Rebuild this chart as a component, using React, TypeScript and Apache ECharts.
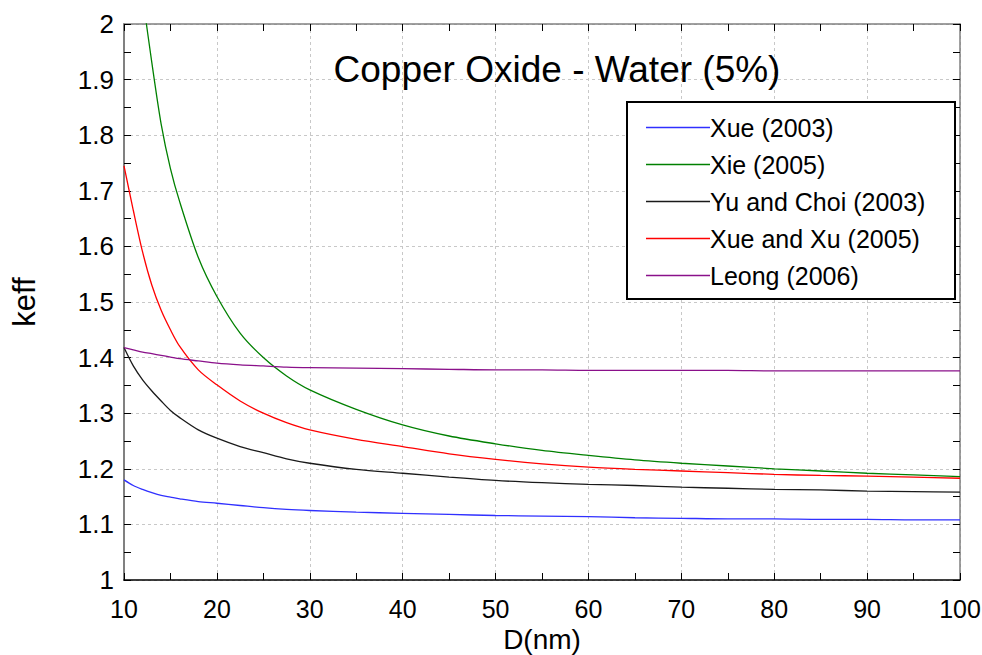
import React, { useEffect, useRef } from "react";
import * as echarts from "echarts";

const TITLE = "Copper Oxide - Water (5%)";
const X_NAME = "D(nm)";
const Y_NAME = "keff";

const seriesNames = ["Xue (2003)", "Xie (2005)", "Yu and Choi (2003)", "Xue and Xu (2005)", "Leong (2006)"];
const seriesColors = ["#3030ff", "#008000", "#1a1a1a", "#ff0000", "#8a108a"];

const D = [10, 11, 12, 13, 14, 15, 16, 18, 20, 22.5, 25, 27.5, 30, 35, 40, 45, 50, 55, 60, 65, 70, 75, 80, 85, 90, 95, 100];

const xue2003 = [1.180, 1.170, 1.163, 1.157, 1.152, 1.149, 1.146, 1.141, 1.138, 1.134, 1.130, 1.127, 1.125, 1.122, 1.120, 1.118, 1.116, 1.115, 1.114, 1.112, 1.111, 1.110, 1.110, 1.109, 1.109, 1.108, 1.108];
const yuChoi2003 = [1.418, 1.385, 1.360, 1.340, 1.322, 1.305, 1.292, 1.270, 1.255, 1.240, 1.229, 1.218, 1.210, 1.199, 1.192, 1.185, 1.179, 1.175, 1.172, 1.170, 1.167, 1.165, 1.163, 1.162, 1.160, 1.159, 1.158];
const xueXu2005 = [1.745, 1.665, 1.590, 1.530, 1.485, 1.450, 1.420, 1.378, 1.351, 1.322, 1.300, 1.283, 1.270, 1.253, 1.240, 1.227, 1.217, 1.209, 1.203, 1.199, 1.196, 1.193, 1.190, 1.188, 1.187, 1.185, 1.183];
const leong2006 = [1.418, 1.414, 1.410, 1.407, 1.404, 1.401, 1.398, 1.394, 1.390, 1.387, 1.385, 1.383, 1.382, 1.381, 1.380, 1.379, 1.378, 1.378, 1.377, 1.377, 1.377, 1.377, 1.376, 1.376, 1.376, 1.376, 1.376];

const D_XIE = [12, 13, 14, 15, 16, 18, 20, 22.5, 25, 27.5, 30, 35, 40, 45, 50, 55, 60, 65, 70, 75, 80, 85, 90, 95, 100];
const xie2005 = [2.05, 1.93, 1.82, 1.74, 1.68, 1.58, 1.51, 1.444, 1.40, 1.367, 1.342, 1.307, 1.279, 1.259, 1.245, 1.233, 1.224, 1.216, 1.210, 1.205, 1.200, 1.196, 1.192, 1.189, 1.186];

const xTickLabels = ["10", "20", "30", "40", "50", "60", "70", "80", "90", "100"];
const yTickLabels = ["1", "1.1", "1.2", "1.3", "1.4", "1.5", "1.6", "1.7", "1.8", "1.9", "2"];

const FONT = "Liberation Sans, Arial, Helvetica, sans-serif";

function pairs(xs: number[], ys: number[]) {
  return xs.map((x, i) => [x, ys[i]]);
}

export default function App() {
  const ref = useRef<HTMLDivElement>(null);
  useEffect(() => {
    if (!ref.current) return;
    const chart = echarts.init(ref.current, undefined, { renderer: "svg" });
    const dataSets = [
      pairs(D, xue2003),
      pairs(D_XIE, xie2005),
      pairs(D, yuChoi2003),
      pairs(D, xueXu2005),
      pairs(D, leong2006),
    ];
    const gridLine = { show: true, lineStyle: { color: "#c8c8c8", type: [3, 3] as any, width: 1 } };
    chart.setOption({
      animation: false,
      backgroundColor: "#ffffff",
      textStyle: { fontFamily: FONT },
      title: {
        text: TITLE,
        left: 552,
        textAlign: "center",
        top: 46,
        textStyle: { fontFamily: FONT, fontSize: 37, fontWeight: "normal", color: "#000" },
      },
      grid: { left: 124, top: 24, right: 22, bottom: 75, show: false, containLabel: false, outerBoundsMode: "none" },
      xAxis: [
        {
          type: "value",
          min: 10,
          max: 100,
          interval: 10,
          position: "bottom",
          name: X_NAME,
          nameLocation: "middle",
          nameGap: 42,
          nameTextStyle: { fontFamily: FONT, fontSize: 28, color: "#000" },
          axisLine: { show: true, onZero: false, lineStyle: { color: "#000", width: 1.5 } },
          axisTick: { show: true, inside: true, length: 7, lineStyle: { color: "#000" } },
          minorTick: { show: true, splitNumber: 2, length: 7, lineStyle: { color: "#000" } },
          axisLabel: {
            fontFamily: FONT,
            fontSize: 25,
            color: "#000",
            margin: 16,
            formatter: (v: number) => xTickLabels[Math.round((v - 10) / 10)] ?? "",
          },
          splitLine: gridLine,
        },
        {
          type: "value",
          min: 10,
          max: 100,
          interval: 10,
          position: "top",
          axisLine: { show: true, onZero: false, lineStyle: { color: "#808080", width: 1.5 } },
          axisTick: { show: true, inside: true, length: 7, lineStyle: { color: "#000" } },
          minorTick: { show: true, splitNumber: 2, length: 7, lineStyle: { color: "#000" } },
          axisLabel: { show: false },
          splitLine: { show: false },
        },
      ],
      yAxis: [
        {
          type: "value",
          min: 1,
          max: 2,
          interval: 0.1,
          position: "left",
          name: Y_NAME,
          nameLocation: "middle",
          nameGap: 84,
          nameTextStyle: { fontFamily: FONT, fontSize: 31, color: "#000" },
          axisLine: { show: true, onZero: false, lineStyle: { color: "#808080", width: 2 } },
          axisTick: { show: true, inside: true, length: 7, lineStyle: { color: "#000" } },
          minorTick: { show: true, splitNumber: 2, length: 7, lineStyle: { color: "#000" } },
          axisLabel: {
            fontFamily: FONT,
            fontSize: 26,
            color: "#000",
            margin: 10,
            formatter: (v: number) => yTickLabels[Math.round((v - 1) * 10)] ?? "",
          },
          splitLine: gridLine,
        },
        {
          type: "value",
          min: 1,
          max: 2,
          interval: 0.1,
          position: "right",
          axisLine: { show: true, onZero: false, lineStyle: { color: "#808080", width: 1.5 } },
          axisTick: { show: true, inside: true, length: 7, lineStyle: { color: "#000" } },
          minorTick: { show: true, splitNumber: 2, length: 7, lineStyle: { color: "#000" } },
          axisLabel: { show: false },
          splitLine: { show: false },
        },
      ],
      legend: {
        orient: "vertical",
        left: 641,
        top: 110,
        itemWidth: 64,
        itemHeight: 14,
        itemGap: 12,
        z: 20,
        textStyle: { fontFamily: FONT, fontSize: 25, color: "#000", padding: [0, 0, 0, -5] },
        data: seriesNames.map((n) => ({ name: n, icon: "path://M0,0L64,0L64,1.4L0,1.4Z" })),
      },
      graphic: [
        {
          type: "rect",
          z: 10,
          shape: { x: 627, y: 102, width: 328, height: 197 },
          style: { fill: "#ffffff", stroke: "#000000", lineWidth: 2 },
        },
      ],
      series: seriesNames.map((name, i) => ({
        name,
        type: "line",
        xAxisIndex: 0,
        yAxisIndex: 0,
        data: dataSets[i],
        smooth: 0.3,
        showSymbol: false,
        symbol: "none",
        clip: true,
        color: seriesColors[i],
        lineStyle: { color: seriesColors[i], width: 1.3 },
      })),
    });
    return () => chart.dispose();
  }, []);
  return <div ref={ref} style={{ position: "absolute", left: 0, top: 0, width: 982, height: 655 }} />;
}
